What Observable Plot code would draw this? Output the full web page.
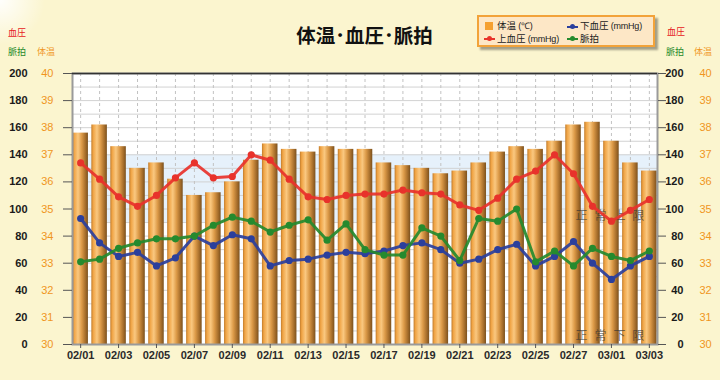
<!DOCTYPE html>
<html><head><meta charset="utf-8">
<script src="https://cdn.jsdelivr.net/npm/d3@7"></script>
<script src="https://cdn.jsdelivr.net/npm/@observablehq/plot@0.6"></script>
<style>
body{margin:0;background:#fbf5cf;}
#wrap{position:relative;width:720px;height:380px;background:radial-gradient(circle at 0 0, rgba(255,255,255,0.95), rgba(255,255,255,0) 45px), #fbf5cf;font-family:"Noto Sans CJK JP",sans-serif;overflow:hidden}
#chart{position:absolute;left:0;top:0}
.a{position:absolute;line-height:1;white-space:nowrap}
.lb{font-size:9px}
#title{position:absolute;left:0;width:729px;top:25px;text-align:center;font-size:19.5px;font-weight:bold;line-height:1;color:#111}
#legend{position:absolute;left:477px;top:15px;width:178px;height:32px;box-sizing:border-box;border:2px solid #f2a33a;background:#fde7c6;box-shadow:3px 3px 2px rgba(0,0,0,0.35)}
.lt{font-size:9.5px;color:#222}
.lt i{font-style:normal;font-family:"Liberation Sans",Arial,sans-serif;font-size:9px;letter-spacing:-0.2px}
.mk{position:absolute;height:2px}
.md{position:absolute;width:5px;height:5px;border-radius:50%}
</style></head><body>
<svg width="0" height="0" style="position:absolute"><defs>
<linearGradient id="barGrad" x1="0" x2="1" y1="0" y2="0">
<stop offset="0" stop-color="#c07b2b"/>
<stop offset="0.12" stop-color="#f0a445"/>
<stop offset="0.36" stop-color="#fac880"/>
<stop offset="0.6" stop-color="#dc9a48"/>
<stop offset="0.85" stop-color="#a46c2a"/>
<stop offset="1" stop-color="#7a511f"/>
</linearGradient></defs></svg>
<div id="wrap">
  <div id="chart"></div>
  <div id="title">体温･血圧･脈拍</div>
  <div id="legend"></div>
  <span class="a" style="left:485px;top:22px;width:8px;height:8px;background:#f5a030"></span>
  <span class="a lt" style="left:497px;top:21px">体温 <i>(℃)</i></span>
  <span class="mk" style="left:567px;top:25.5px;width:11px;background:#2b3f9c"></span>
  <span class="md" style="left:570px;top:24px;background:#2b3f9c"></span>
  <span class="a lt" style="left:580px;top:21px">下血圧 <i>(mmHg)</i></span>
  <span class="mk" style="left:484px;top:37.5px;width:11px;background:#e8322b"></span>
  <span class="md" style="left:487px;top:36px;background:#e8322b"></span>
  <span class="a lt" style="left:497px;top:34px">上血圧 <i>(mmHg)</i></span>
  <span class="mk" style="left:567px;top:37.5px;width:11px;background:#258a2e"></span>
  <span class="md" style="left:570px;top:36px;background:#258a2e"></span>
  <span class="a lt" style="left:580px;top:34px">脈拍</span>

  <span class="a lb" style="left:8px;top:28px;color:#e62020">血圧</span>
  <span class="a lb" style="left:8px;top:47px;color:#1f8a2a">脈拍</span>
  <span class="a lb" style="left:37px;top:47px;color:#f0951e">体温</span>
  <span class="a lb" style="left:667px;top:27px;color:#e62020">血圧</span>
  <span class="a lb" style="left:666px;top:47px;color:#1f8a2a">脈拍</span>
  <span class="a lb" style="left:694px;top:47px;color:#f0951e">体温</span>
</div>
<script>
const dates = ["02/01","02/02","02/03","02/04","02/05","02/06","02/07","02/08","02/09","02/10",
  "02/11","02/12","02/13","02/14","02/15","02/16","02/17","02/18","02/19","02/20",
  "02/21","02/22","02/23","02/24","02/25","02/26","02/27","02/28","03/01","03/02","03/03"];
const temp = [37.8,38.1,37.3,36.5,36.7,36.1,35.5,35.6,36.0,36.8,37.4,37.2,37.1,37.3,37.2,37.2,
  36.7,36.6,36.5,36.3,36.4,36.7,37.1,37.3,37.2,37.5,38.1,38.2,37.5,36.7,36.4];
const systolic = [134,122,109,102,110,123,134,123,124,140,136,122,109,107,110,111,111,114,112,111,
  103,99,108,122,128,140,126,102,91,99,107];
const diastolic = [93,75,65,68,58,64,80,73,81,78,58,62,63,66,68,67,69,73,75,70,60,63,70,74,58,65,
  76,60,48,58,65];
const pulse = [61,63,71,75,78,78,80,88,94,91,83,88,92,77,89,70,66,66,86,80,62,93,91,100,61,69,58,
  71,65,62,69];
const yTicks = [0,20,40,60,80,100,120,140,160,180,200];
const gridTicks = [10,20,30,40,50,60,70,80,90,100,110,120,130,140,150,160,170,180,190];
const xTickLabels = ["02/01","02/03","02/05","02/07","02/09","02/11","02/13","02/15","02/17",
  "02/19","02/21","02/23","02/25","02/27","03/01","03/03"];
const normalBand = [{lo:90, hi:140}];
const faintChars = [
  {date:"02/28", v:95, c:"正"},{date:"03/01", v:95, c:"常"},{date:"03/02", v:95, c:"上"},{date:"03/03", v:95, c:"限"},
  {date:"02/28", v:6, c:"正"},{date:"03/01", v:6, c:"常"},{date:"03/02", v:6, c:"下"},{date:"03/03", v:6, c:"限"}];

const rows = dates.map((d,i)=>({date:d, temp:temp[i], sys:systolic[i], dia:diastolic[i], pulse:pulse[i]}));
const series = [
  {key:"sys", color:"#e8322b"},
  {key:"dia", color:"#2b3f9c"},
  {key:"pulse", color:"#258a2e"}
];
const toY = t => (t - 30) * 20;
const orange = "#f0951e";

const chart = Plot.plot({
  width:720, height:380,
  marginLeft:72, marginRight:63, marginTop:73, marginBottom:36,
  style:{background:"transparent", fontFamily:"'Liberation Sans', Arial, sans-serif", overflow:"visible"},
  x:{type:"band", domain:dates, paddingInner:0.18, paddingOuter:0.02, round:false, label:null},
  y:{domain:[0,200], label:null},
  marks:[
    Plot.frame({fill:"white", stroke:null}),
    Plot.rect(normalBand, {y1:"lo", y2:"hi", fill:"#e6f1fb"}),
    Plot.gridY({ticks:gridTicks, stroke:"#d2d2d2", strokeOpacity:1}),
    Plot.gridX({stroke:"#c2c2c2", strokeOpacity:1, strokeDasharray:"3,3"}),
    Plot.barY(rows, {x:"date", y:d=>toY(d.temp), fill:"url(#barGrad)"}),
    Plot.text(faintChars, {x:"date", y:"v", text:"c", dx:-11, fontSize:12, fill:"#333", fillOpacity:0.65,
      fontFamily:"Noto Sans CJK JP"}),
    ...series.flatMap(s => [
      Plot.line(rows, {x:"date", y:s.key, stroke:s.color, strokeWidth:3, strokeOpacity:0.92}),
      Plot.dot(rows, {x:"date", y:s.key, fill:s.color, r:3.6, stroke:null})
    ]),
    Plot.frame({stroke:"#9a9a9a", strokeWidth:2}),
    Plot.ruleY([200], {stroke:"#333", strokeWidth:1.5}),
    Plot.axisY({ticks:yTicks, anchor:"left", tickSize:9, tickPadding:36, fontSize:11, fontWeight:"bold",
      fill:"#1a1a1a", stroke:"#555", label:null}),
    Plot.axisY({ticks:yTicks, anchor:"left", tickSize:0, tickPadding:19, fontSize:11,
      tickFormat:d=>String(30 + d/20), fill:orange, label:null}),
    Plot.axisY({ticks:yTicks, anchor:"right", tickSize:8, tickPadding:18, textAnchor:"end", fontSize:11,
      fontWeight:"bold", fill:"#1a1a1a", stroke:"#555", label:null}),
    Plot.axisY({ticks:yTicks, anchor:"right", tickSize:0, tickPadding:42, textAnchor:"start", fontSize:11,
      tickFormat:d=>String(30 + d/20), fill:orange, label:null}),
    Plot.axisX({ticks:xTickLabels, tickSize:4, tickPadding:3, fontSize:11, fontWeight:"bold",
      fill:"#2a2a2a", stroke:"#555", label:null})
  ]
});
document.getElementById("chart").appendChild(chart);
</script>
</body></html>
